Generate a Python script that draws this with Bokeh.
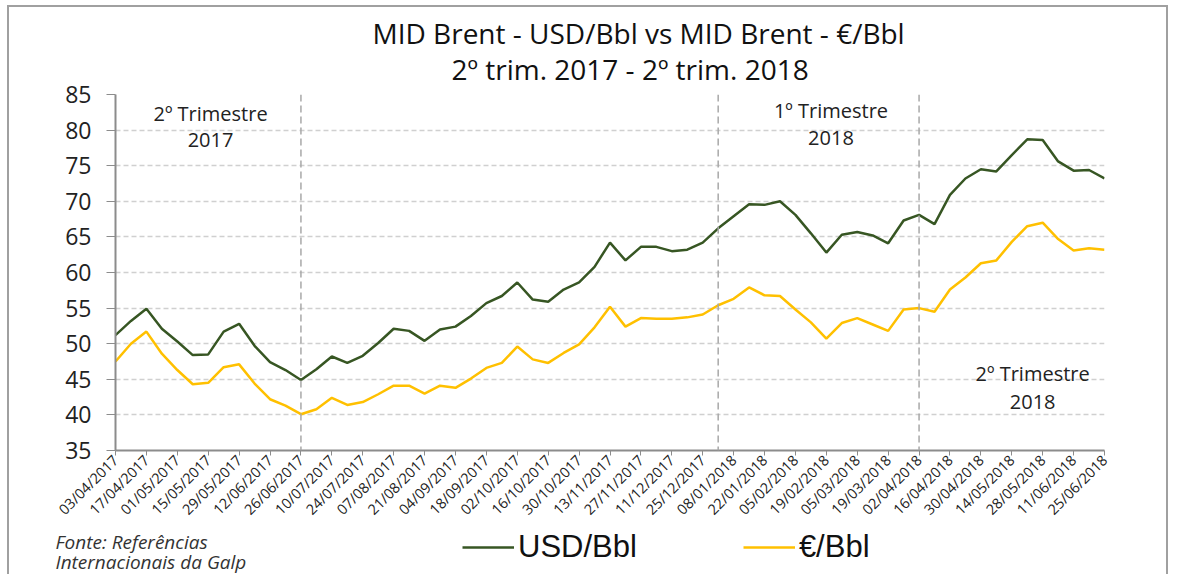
import math
from bokeh.plotting import figure
from bokeh.layouts import column
from bokeh.models import (Range1d, FixedTicker, Span, Label, Legend, LegendItem,
                          ColumnDataSource, Title)
from bokeh.embed import file_html
from bokeh.resources import INLINE

# ---- data -------------------------------------------------------------
usd = [51.2, 53.2, 54.9, 52.1, 50.3, 48.4, 48.5, 51.7, 52.8, 49.7, 47.4, 46.3, 44.9,
       46.4, 48.2, 47.3, 48.3, 50.1, 52.1, 51.8, 50.4, 52.0, 52.4, 53.9, 55.7, 56.7,
       58.6, 56.2, 55.9, 57.6, 58.6, 60.8, 64.2, 61.7, 63.6, 63.6, 63.0, 63.2, 64.2,
       66.2, 67.9, 69.6, 69.5, 70.0, 68.1, 65.5, 62.8, 65.3, 65.7, 65.2, 64.1, 67.3,
       68.1, 66.8, 70.9, 73.2, 74.5, 74.2, 76.5, 78.7, 78.6, 75.6, 74.3, 74.4, 73.2]
eur = [47.5, 50.0, 51.7, 48.6, 46.3, 44.3, 44.5, 46.7, 47.1, 44.4, 42.2, 41.3, 40.1,
       40.8, 42.4, 41.4, 41.8, 42.9, 44.1, 44.1, 43.0, 44.1, 43.8, 45.1, 46.6, 47.3,
       49.6, 47.8, 47.3, 48.7, 49.9, 52.3, 55.2, 52.4, 53.6, 53.5, 53.5, 53.7, 54.1,
       55.4, 56.3, 57.9, 56.8, 56.7, 54.8, 53.0, 50.7, 52.9, 53.6, 52.7, 51.8, 54.8,
       55.0, 54.5, 57.6, 59.3, 61.3, 61.7, 64.3, 66.5, 67.0, 64.7, 63.1, 63.4, 63.2]
tick_labels = ["03/04/2017", "17/04/2017", "01/05/2017", "15/05/2017", "29/05/2017",
               "12/06/2017", "26/06/2017", "10/07/2017", "24/07/2017", "07/08/2017",
               "21/08/2017", "04/09/2017", "18/09/2017", "02/10/2017", "16/10/2017",
               "30/10/2017", "13/11/2017", "27/11/2017", "11/12/2017", "25/12/2017",
               "08/01/2018", "22/01/2018", "05/02/2018", "19/02/2018", "05/03/2018",
               "19/03/2018", "02/04/2018", "16/04/2018", "30/04/2018", "14/05/2018",
               "28/05/2018", "11/06/2018", "25/06/2018"]
quarter_breaks = [12, 39, 52]   # week index of quarter boundaries
title_lines = ["MID Brent - USD/Bbl vs MID Brent - €/Bbl", "2º trim. 2017 - 2º trim. 2018"]
series_names = ["USD/Bbl", "€/Bbl"]
source_lines = ["Fonte: Referências", "Internacionais da Galp"]
usd_color = "#375623"
eur_color = "#FFC000"

weeks = list(range(len(usd)))
tick_pos = weeks[::2]

FONT = "Open Sans"
W = 1157
src = ColumnDataSource(dict(x=weeks, usd=usd, eur=eur))

p = figure(width=W, height=521, output_backend="svg", toolbar_location=None,
           x_range=Range1d(0, len(usd) - 1), y_range=Range1d(35, 85),
           min_border_left=106, min_border_right=W - 106 - 989, min_border_top=87,
           min_border_bottom=76)
p.frame_align = False
p.outline_line_color = None
p.title.visible = False

# two-line title
p.add_layout(Title(text=title_lines[1], align="left", offset=336, text_font=FONT,
                   text_font_size="28px", text_font_style="normal",
                   text_color="#111111", standoff=13), "above")
p.add_layout(Title(text=title_lines[0], align="left", offset=257, text_font=FONT,
                   text_font_size="28px", text_font_style="normal",
                   text_color="#111111", standoff=-21), "above")

# axes
p.xaxis.ticker = FixedTicker(ticks=tick_pos)
p.xaxis.major_label_overrides = {t: l for t, l in zip(tick_pos, tick_labels)}
p.xaxis.major_label_orientation = math.pi / 4
p.xaxis.major_label_text_font = FONT
p.xaxis.major_label_text_font_size = "14.5px"
p.xaxis.major_label_text_color = "#222222"
p.xaxis.major_tick_in = 0
p.xaxis.major_tick_out = 5
p.xaxis.minor_tick_line_color = None
p.xaxis.axis_line_color = "#8c8c8c"
p.xaxis.major_tick_line_color = "#8c8c8c"
p.xaxis.axis_line_width = 2
p.xaxis.major_label_standoff = 2

p.yaxis.ticker = FixedTicker(ticks=list(range(35, 90, 5)))
p.yaxis.major_label_text_font = FONT
p.yaxis.major_label_text_font_size = "23px"
p.yaxis.major_label_text_color = "#222222"
p.yaxis.major_tick_in = 0
p.yaxis.major_tick_out = 9
p.yaxis.minor_tick_line_color = None
p.yaxis.axis_line_color = "#8c8c8c"
p.yaxis.major_tick_line_color = "#8c8c8c"
p.yaxis.axis_line_width = 2
p.yaxis.major_label_standoff = 15

p.xgrid.grid_line_color = None
p.ygrid.grid_line_color = "#d0d0d0"
p.ygrid.grid_line_dash = "5 3"
p.ygrid.grid_line_width = 1.5

for b in quarter_breaks:
    p.add_layout(Span(location=b, dimension="height", line_color="#a8a8a8",
                      line_dash="7 4", line_width=1.5))

p.line("x", "usd", source=src, line_color=usd_color, line_width=2.5)
p.line("x", "eur", source=src, line_color=eur_color, line_width=2.5)

# quarter annotations
ann = [(6.15, 82.35, "2º Trimestre"), (6.15, 78.6, "2017"),
       (46.3, 82.8, "1º Trimestre"), (46.3, 78.9, "2018"),
       (59.35, 45.75, "2º Trimestre"), (59.35, 41.85, "2018")]
for x, y, t in ann:
    p.add_layout(Label(x=x, y=y, text=t, text_align="center", text_baseline="middle",
                       text_font=FONT, text_font_size="20px", text_color="#222222"))

# ---- footer: source + legend ------------------------------------------
H2 = 46
f = figure(width=W, height=H2, output_backend="svg", toolbar_location=None,
           x_range=Range1d(0, W), y_range=Range1d(H2, 0),
           x_axis_type=None, y_axis_type=None, min_border=0)
f.frame_align = False
f.outline_line_color = None
f.grid.visible = False
for y, t in [(13, source_lines[0]), (33.5, source_lines[1])]:
    f.add_layout(Label(x=46, y=y, text=t, text_align="left", text_baseline="middle",
                       text_font=FONT, text_font_size="19px", text_font_style="italic",
                       text_color="#333333"))
# legend-only renderers (single point each, draws no visible line)
l1 = f.line(x=[0], y=[-100], line_color=usd_color, line_width=2.5)
l2 = f.line(x=[0], y=[-100], line_color=eur_color, line_width=2.5)
legend = Legend(items=[LegendItem(label=series_names[0], renderers=[l1]),
                       LegendItem(label=series_names[1], renderers=[l2])],
                orientation="horizontal", location=(453, 9),
                label_text_font="Liberation Sans", label_text_font_size="31px",
                label_text_color="#111111", glyph_width=52, label_standoff=4,
                spacing=106, padding=0, margin=0, border_line_color=None,
                background_fill_alpha=0, label_height=34, glyph_height=34)
f.add_layout(legend, "center")

layout = column(p, f, spacing=0)
layout.styles = {"margin-top": "5px", "margin-left": "7px",
                 "border-top": "2px solid #a0a0a0", "border-left": "2px solid #a0a0a0",
                 "border-right": "2px solid #a0a0a0"}

open("out.html", "w").write(file_html(layout, INLINE))
